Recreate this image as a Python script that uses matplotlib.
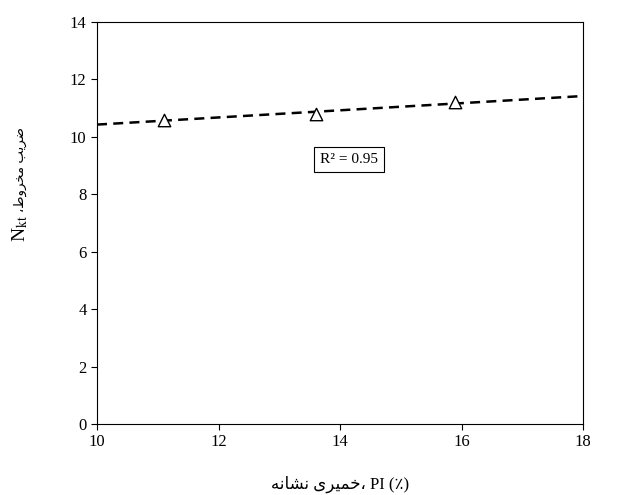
import matplotlib
matplotlib.use("Agg")
import matplotlib.pyplot as plt
import numpy as np

# -------------------------------
# Data
# -------------------------------
pi_values = [11.1, 13.6, 15.9]
nkt_values = [10.6, 10.8, 11.2]
fit_x = [10, 18]
r2_text = "R² = 0.95"

# Persian labels in visual order, presentation forms (matplotlib does no shaping)
xlabel_fa = "\uFEEA\uFEE7\uFE8E\uFEB8\uFEE7 \uFEEF\uFEAE\uFEF4\uFEE4\uFEA7\u060C PI (\u066A)"
ylabel_fa = "\u060C\uFEC1\uFEED\uFEAE\uFEA8\uFEE3 \uFE90\uFEF3\uFEAE\uFEBF"
ylabel_sym = "N$_{\\mathrm{kt}}$"

plt.rcParams['font.family'] = ['Liberation Serif', 'DejaVu Sans']
plt.rcParams['mathtext.fontset'] = 'stix'


def main():
    fig = plt.figure(figsize=(6.2, 4.95), dpi=100)
    ax = fig.add_axes([97 / 620, 71 / 495, 486 / 620, 402 / 495])

    # linear trend line
    coef = np.polyfit(pi_values, nkt_values, 1)
    fx = np.array(fit_x)
    ax.plot(fx, np.polyval(coef, fx), 'k--', lw=1.8, dashes=(4, 2.5))

    ax.scatter(pi_values, nkt_values, marker='^', s=80, facecolors='white',
               edgecolors='black', linewidths=1, zorder=3)

    ax.text(14.15, 9.2, r2_text, fontsize=11, ha='center', va='center',
            bbox=dict(boxstyle='square,pad=0.4', fc='white', ec='black', lw=0.8))

    ax.set_xlim(10, 18)
    ax.set_ylim(0, 14)
    ax.set_xticks(range(10, 19, 2))
    ax.set_yticks(range(0, 15, 2))
    ax.tick_params(labelsize=12, direction='out', length=4)
    for s in ax.spines.values():
        s.set_linewidth(0.8)

    ax.set_xlabel(xlabel_fa, fontsize=12, labelpad=18)

    # y label in two pieces (mathtext would drop the font fallback)
    fig.text(20 / 620, 1 - 228 / 495, ylabel_sym, rotation=90, fontsize=14,
             ha='center', va='center')
    fig.text(20 / 620, 1 - 170 / 495, ylabel_fa, rotation=90, fontsize=9.5,
             ha='center', va='center')

    fig.savefig("out.png", dpi=100)


if __name__ == "__main__":
    main()
